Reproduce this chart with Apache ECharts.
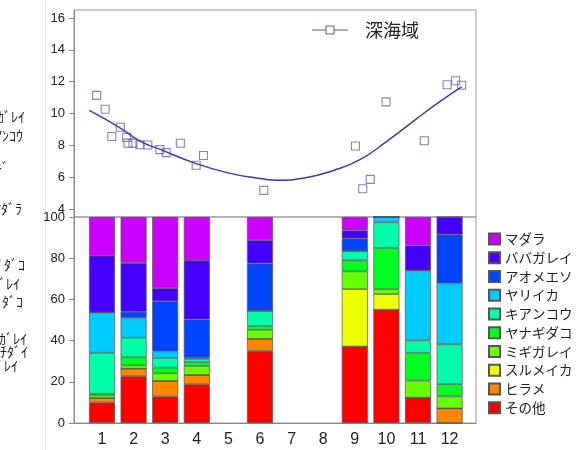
<!DOCTYPE html>
<html><head><meta charset="utf-8">
<script src="https://cdn.jsdelivr.net/npm/echarts@6/dist/echarts.min.js"></script>
<style>html,body{margin:0;padding:0;background:#fff}#c{width:581px;height:450px}</style>
</head><body><div id="c"></div>
<script>
// ---- data ----
const months = [1, 2, 3, 4, 6, 9, 10, 11, 12];
const monthTicks = ['1','2','3','4','5','6','7','8','9','10','11','12'];
const topTicks = [4,6,8,10,12,14,16];
const speciesNames = ['その他','ヒラメ','スルメイカ','ミギガレイ','ヤナギダコ','キアンコウ','ヤリイカ','アオメエソ','ババガレイ','マダラ'];
const speciesColors = ['#FF0000','#FF8800','#EEFF00','#66FF00','#00FF22','#00FFAA','#00CCFF','#0044FF','#4400FF','#CC00FF'];
const sonota  = [10.0, 22.8, 12.9, 18.9, 35.0, 37.1, 55.0, 12.3, 0];
const hirame  = [2.1, 3.6, 7.5, 4.4, 5.8, 0, 0, 0, 7.1];
const surume  = [0, 0, 0, 0, 0, 27.9, 7.6, 0, 0];
const migi    = [1.3, 1.6, 3.7, 4.4, 4.4, 8.6, 2.4, 8.3, 5.8];
const yanagi  = [0.8, 3.9, 2.8, 1.9, 1.9, 5.4, 20.0, 13.5, 6.0];
const kiankou = [19.9, 9.5, 4.7, 1.5, 7.3, 4.5, 12.4, 6.0, 19.3];
const yariika = [19.6, 9.6, 3.2, 0.5, 0, 0, 2.6, 34.0, 29.6];
const aome    = [0, 3.0, 24.3, 18.7, 23.0, 6.0, 0, 0, 23.6];
const baba    = [27.5, 23.7, 6.4, 28.7, 11.4, 4.0, 0, 12.1, 8.6];
const madara  = [18.8, 22.3, 34.5, 21.0, 11.2, 6.5, 0, 13.8, 0];
const speciesValues = [sonota, hirame, surume, migi, yanagi, kiankou, yariika, aome, baba, madara];

const scatterX = [0.83,1.10,1.31,1.58,1.78,1.82,1.98,2.20,2.45,2.83,3.03,3.48,3.98,4.21,6.12,9.02,9.25,9.49,9.99,11.20,11.92,12.19,12.38];
const scatterY = [11.14,10.27,8.56,9.14,8.50,8.14,8.14,8.04,8.02,7.73,7.54,8.13,6.75,7.36,5.17,7.96,5.27,5.86,10.73,8.29,11.81,12.06,11.77];
const curveX = [0.60,1.57,2.20,2.84,3.89,4.95,6.00,6.53,7.40,8.32,9.16,10.01,10.96,11.70,12.38];
const curveY = [10.19,9.10,8.27,7.75,6.92,6.29,5.92,5.81,5.95,6.42,7.10,8.25,9.68,10.76,11.67];
const seriesLabel = '深海域';
const sideTexts = [
  ['ﾊﾞﾊﾞｶﾞﾚｲ', 25, 117], ['ｷｱﾝｺｳ', 23, 136], ['ﾐｷﾞ', 9, 168], ['ﾏﾀﾞﾗ', 22, 209],
  ['ﾔﾅｷﾞﾀﾞｺ', 25, 265], ['ﾊﾞﾊﾞｶﾞﾚｲ', 20, 284], ['ﾐｽﾞﾀﾞｺ', 23, 302],
  ['ﾑｼｶﾞﾚｲ', 27, 339], ['ｷﾁﾀﾞｲ', 28, 352], ['ｻﾒｶﾞﾚｲ', 18, 366]
];

// ---- chart ----
const chart = echarts.init(document.getElementById('c'), null, {renderer: 'canvas'});
const jp = '"Noto Sans CJK JP", "Noto Sans", sans-serif';
const lat = '"Liberation Sans", Arial, sans-serif';
const xMin = 0.114, xMax = 12.835;

const barSeries = speciesNames.map((n, i) => ({
  name: n, type: 'bar', stack: 'all', xAxisIndex: 2, yAxisIndex: 2,
  barWidth: 26,
  itemStyle: {color: speciesColors[i], borderColor: '#555', borderWidth: 0.7},
  data: monthTicks.map(t => {
    const j = months.indexOf(Number(t));
    return j < 0 ? '-' : speciesValues[i][j];
  })
}));

const graphics = sideTexts.map(t => ({
  type: 'text', x: t[1], y: t[2],
  style: {text: t[0], font: '14px ' + jp, fill: '#222', align: 'right', verticalAlign: 'middle'}
}));
graphics.push({type: 'line', shape: {x1: 45.5, y1: 0, x2: 45.5, y2: 450}, style: {stroke: '#e4e4e4', lineWidth: 1}});
graphics.push({type: 'line', shape: {x1: 312, y1: 30, x2: 348, y2: 30}, style: {stroke: '#5555BB', lineWidth: 1}});
graphics.push({type: 'rect', shape: {x: 326, y: 26, width: 8, height: 8}, style: {stroke: '#6666AA', fill: '#fff', lineWidth: 1.1}});
graphics.push({type: 'text', x: 365, y: 30, style: {text: seriesLabel, font: '18px ' + jp, fill: '#222', verticalAlign: 'middle'}});

const hidden = {axisLine: {show: false}, axisTick: {show: false}, axisLabel: {show: false}, splitLine: {show: false}};

chart.setOption({
  animation: false,
  backgroundColor: '#fff',
  grid: [
    {left: 74, right: 105, top: 10, height: 207, show: true, borderColor: '#999', borderWidth: 1},
    {left: 74, right: 105, top: 217, height: 206, show: true, borderColor: '#999', borderWidth: 1},
    {left: 86.2, right: 115.6, top: 217, height: 206}
  ],
  xAxis: [
    Object.assign({type: 'value', gridIndex: 0, min: xMin, max: xMax}, hidden),
    {type: 'value', gridIndex: 1, min: xMin, max: xMax, splitLine: {show: false},
     axisLine: {show: true, lineStyle: {color: '#888'}}, axisTick: {show: false}, axisLabel: {show: false}},
    {type: 'category', gridIndex: 2, data: monthTicks, boundaryGap: true,
     axisLine: {show: false}, axisTick: {show: false}, splitLine: {show: false},
     axisLabel: {fontSize: 16, color: '#222', fontFamily: lat, margin: 9, interval: 0}}
  ],
  yAxis: [
    {type: 'value', gridIndex: 0, min: 3.5, max: 16.5, splitLine: {show: false},
     axisLine: {show: true, lineStyle: {color: '#888'}},
     axisTick: {show: true, customValues: topTicks, length: 5, lineStyle: {color: '#888'}},
     axisLabel: {customValues: topTicks, fontSize: 13, color: '#222', fontFamily: lat, margin: 9}},
    {type: 'value', gridIndex: 1, min: 0, max: 100, interval: 20, splitLine: {show: false},
     axisLine: {show: true, lineStyle: {color: '#888'}},
     axisTick: {show: true, length: 5, lineStyle: {color: '#888'}},
     axisLabel: {fontSize: 13, color: '#222', fontFamily: lat, margin: 9}},
    Object.assign({type: 'value', gridIndex: 2, min: 0, max: 100}, hidden)
  ],
  legend: {
    orient: 'vertical', left: 483, top: 227, itemWidth: 11, itemHeight: 11, itemGap: 4.75,
    icon: 'rect', textStyle: {fontSize: 13.5, fontFamily: jp, color: '#222', lineHeight: 14},
    data: speciesNames.slice().reverse()
  },
  graphic: graphics,
  series: [
    {type: 'line', xAxisIndex: 0, yAxisIndex: 0, smooth: 0.5, showSymbol: false, silent: true,
     lineStyle: {color: '#3535C8', width: 1.4}, data: curveX.map((x, i) => [x, curveY[i]])},
    {type: 'scatter', xAxisIndex: 0, yAxisIndex: 0, symbol: 'rect', symbolSize: 8,
     itemStyle: {color: 'rgba(0,0,0,0)', borderColor: '#6666AA', borderWidth: 1.1},
     data: scatterX.map((x, i) => [x, scatterY[i]])},
    ...barSeries
  ]
});
</script></body></html>
